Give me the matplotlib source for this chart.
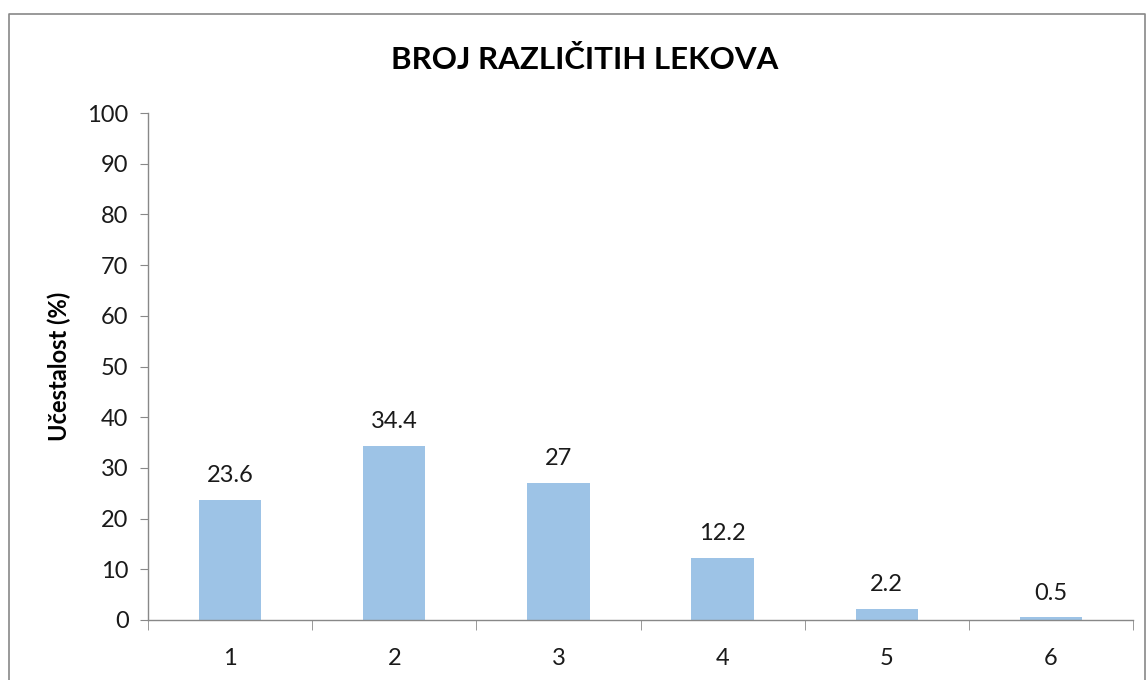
import numpy as np
import matplotlib.pyplot as plt
from matplotlib.lines import Line2D

categories = ['1', '2', '3', '4', '5', '6']
values = [23.6, 34.4, 27, 12.2, 2.2, 0.5]
value_labels = ['23.6', '34.4', '27', '12.2', '2.2', '0.5']

plt.rcParams['font.family'] = ['Lato', 'DejaVu Sans']

fig = plt.figure(figsize=(11.47, 6.8), dpi=100)
ax = fig.add_axes([148 / 1147, 1 - 620 / 680, (1133 - 148) / 1147, (620 - 113) / 680])

x = np.arange(len(categories))
bars = ax.bar(x, values, width=0.38, color='#9DC3E6', zorder=2)

for xi, v, lab in zip(x, values, value_labels):
    ax.annotate(lab, (xi, v), xytext=(0, 10), textcoords='offset points',
                ha='center', va='bottom', fontsize=17, color='#1a1a1a')

ax.set_xlim(-0.5, len(categories) - 0.5)
ax.set_ylim(0, 100)
ax.set_yticks(np.arange(0, 101, 10))
ax.tick_params(axis='y', labelsize=17, length=6, color='#888888', labelcolor='#1a1a1a', pad=8)

# category labels centred, tick marks between categories
ax.set_xticks(x)
ax.set_xticklabels(categories)
ax.tick_params(axis='x', which='major', length=0, labelsize=17, labelcolor='#1a1a1a', pad=20)
ax.set_xticks(np.arange(-0.5, len(categories), 1), minor=True)
ax.tick_params(axis='x', which='minor', length=7, color='#888888')

for s in ['top', 'right']:
    ax.spines[s].set_visible(False)
for s in ['left', 'bottom']:
    ax.spines[s].set_color('#888888')
    ax.spines[s].set_linewidth(1)

ax.set_ylabel('Učestalost (%)', fontsize=17, fontweight='bold', labelpad=12)
fig.text(585 / 1147, 1 - 60 / 680, 'BROJ RAZLIČITIH LEKOVA', ha='center', va='center',
         fontsize=22.5, fontweight='bold')

# chart frame
fx0, fx1, fy1 = 9 / 1147, 1145 / 1147, 1 - 14 / 680
fig.add_artist(Line2D([fx0, fx0, fx1, fx1], [0, fy1, fy1, 0], transform=fig.transFigure,
                      color='#888888', linewidth=1.2))

fig.savefig('out.png', dpi=100)
